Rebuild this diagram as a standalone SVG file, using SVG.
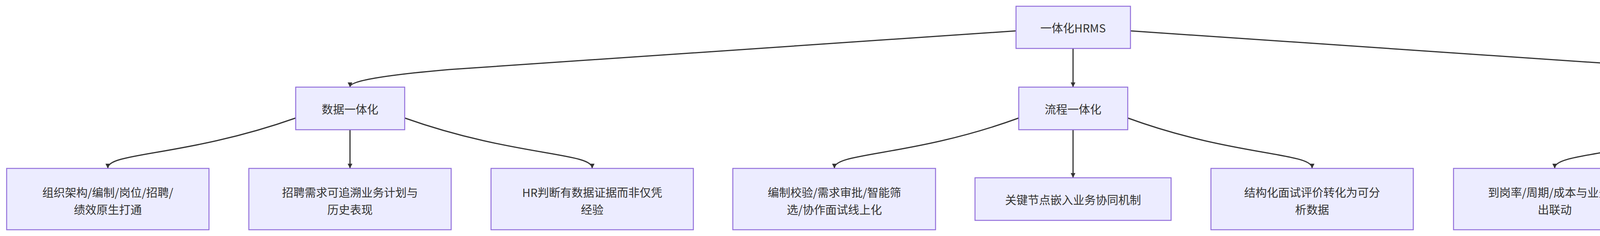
<svg xmlns="http://www.w3.org/2000/svg" width="5432" height="604" viewBox="0 0 5432 604">
<style>
.n rect{fill:#ECECFF;stroke:#9370DB;stroke-width:2.5}
.n text{font-family:"Noto Sans CJK SC","Liberation Sans",sans-serif;font-size:29px;fill:#333;text-anchor:middle;dominant-baseline:central}
.e path{fill:none;stroke:#333;stroke-width:3}
</style>
<defs><marker id="a" markerWidth="12" markerHeight="12" refX="11" refY="6" orient="auto" markerUnits="userSpaceOnUse"><path d="M0,0L12,6L0,12z" fill="#333"/></marker></defs>
<rect width="5432" height="604" fill="#fff"/>
<g class="e">
<path marker-end="url(#a)" d="M2601,79 L1150,178 Q896,200 896,222"/>
<path marker-end="url(#a)" d="M2747,124 L2747,222"/>
<path marker-end="url(#a)" d="M2894,79 L4345,178 Q4592,200 4592,222"/>
<path marker-end="url(#a)" d="M757,302 C480,400 276,390 276,430"/>
<path marker-end="url(#a)" d="M896,332 L896,430"/>
<path marker-end="url(#a)" d="M1036,302 C1312,400 1516,390 1516,430"/>
<path marker-end="url(#a)" d="M2608,302 C2340,400 2136,390 2136,430"/>
<path marker-end="url(#a)" d="M2747,332 L2747,454"/>
<path marker-end="url(#a)" d="M2887,302 C3155,400 3359,390 3359,430"/>
<path marker-end="url(#a)" d="M4453,302 C4185,400 3980,390 3980,430"/>
<path marker-end="url(#a)" d="M4592,332 L4592,454"/>
<path marker-end="url(#a)" d="M4730,302 C4990,400 5180,400 5180,454"/>
</g>
<g id="root" class="n"><rect x="2601" y="16" width="293" height="108"/><text x="2747" y="70">一体化HRMS</text></g>
<g id="data" class="n"><rect x="757" y="223" width="279" height="109"/><text x="896" y="278">数据一体化</text></g>
<g id="flow" class="n"><rect x="2608" y="223" width="279" height="109"/><text x="2747" y="278">流程一体化</text></g>
<g id="goal" class="n"><rect x="4453" y="223" width="277" height="109"/><text x="4592" y="278">目标一体化</text></g>
<g id="d1" class="n"><rect x="17" y="431" width="518" height="157"/><text x="276" y="491">组织架构/编制/岗位/招聘/</text><text x="276" y="535">绩效原生打通</text></g>
<g id="d2" class="n"><rect x="637" y="431" width="518" height="157"/><text x="896" y="491">招聘需求可追溯业务计划与</text><text x="896" y="535">历史表现</text></g>
<g id="d3" class="n"><rect x="1257" y="431" width="518" height="157"/><text x="1516" y="491">HR判断有数据证据而非仅凭</text><text x="1516" y="535">经验</text></g>
<g id="f1" class="n"><rect x="1876" y="431" width="519" height="157"/><text x="2136" y="491">编制校验/需求审批/智能筛</text><text x="2136" y="535">选/协作面试线上化</text></g>
<g id="f2" class="n"><rect x="2496" y="455" width="502" height="109"/><text x="2747" y="510">关键节点嵌入业务协同机制</text></g>
<g id="f3" class="n"><rect x="3100" y="431" width="518" height="157"/><text x="3359" y="491">结构化面试评价转化为可分</text><text x="3359" y="535">析数据</text></g>
<g id="g1" class="n"><rect x="3721" y="431" width="517" height="157"/><text x="3980" y="491">到岗率/周期/成本与业务产</text><text x="3980" y="535">出联动</text></g>
<g id="g2" class="n"><rect x="4341" y="455" width="502" height="109"/><text x="4592" y="510">招聘价值进入业务评价体系</text></g>
<g id="g3" class="n"><rect x="4945" y="455" width="470" height="109"/><text x="5180" y="510">从流程完成转向结果验证</text></g>
</svg>
